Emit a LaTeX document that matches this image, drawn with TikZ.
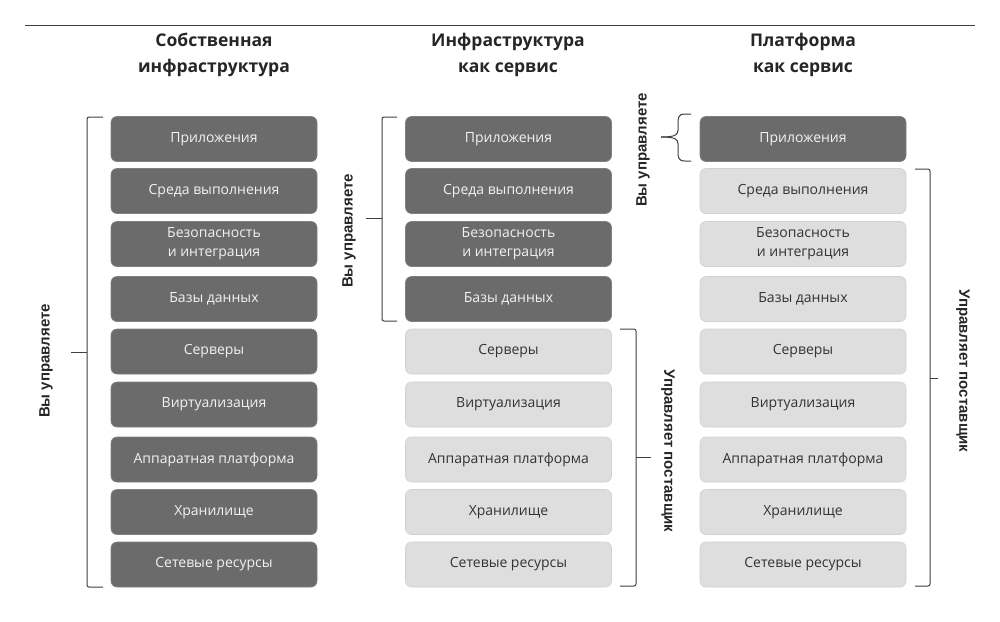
\documentclass[tikz,border=0pt]{standalone}
\usepackage{fontspec}
\setmainfont{Open Sans}
\newfontfamily\lblfont{Liberation Sans}
\begin{document}
\begin{tikzpicture}[x=1pt,y=-1pt,
  darkbox/.style={draw=black!50,line width=0.6pt,fill=black!58,rounded corners=6pt,minimum width=206pt,minimum height=45pt,
     text=white!95!black,font=\fontsize{14}{19}\selectfont,align=center,inner sep=0pt},
  lightbox/.style={draw=black!18,line width=0.6pt,fill=black!13,rounded corners=6pt,minimum width=206pt,minimum height=45pt,
     text=black!80,font=\fontsize{14}{19}\selectfont,align=center,inner sep=0pt},
  ttl/.style={font=\bfseries\fontsize{17.5}{26}\selectfont,align=center,text=black!85},
  brk/.style={draw=black!75,line width=1pt,rounded corners=2pt},
  side/.style={font=\lblfont\bfseries\fontsize{15}{18}\selectfont,text=black!85,inner sep=0pt}]
\useasboundingbox (0,0) rectangle (1000,621);
\fill[white] (0,0) rectangle (1000,621);
\coordinate (rl) at (25,25);
\coordinate (rr) at (975,25);
\draw[black!75,line width=1pt] (rl) -- (rr);
% titles
\node[ttl] (t1) at (214,55) {Собственная\\инфраструктура};
\node[ttl] (t2) at (508,55) {Инфраструктура\\как сервис};
\node[ttl] (t3) at (803,55) {Платформа\\как сервис};
% column 1
\node[darkbox] (a1) at (214,139) {Приложения};
\node[darkbox] (a2) at (214,191) {Среда выполнения};
\node[darkbox] (a3) at (214,244) {Безопасность\\и интеграция};
\node[darkbox] (a4) at (214,299) {Базы данных};
\node[darkbox] (a5) at (214,351.5) {Серверы};
\node[darkbox] (a6) at (214,404.5) {Виртуализация};
\node[darkbox] (a7) at (214,459.5) {Аппаратная платформа};
\node[darkbox] (a8) at (214,512) {Хранилище};
\node[darkbox] (a9) at (214,564.5) {Сетевые ресурсы};
% column 2
\node[darkbox] (b1) at (508.5,139) {Приложения};
\node[darkbox] (b2) at (508.5,191) {Среда выполнения};
\node[darkbox] (b3) at (508.5,244) {Безопасность\\и интеграция};
\node[darkbox] (b4) at (508.5,299) {Базы данных};
\node[lightbox] (b5) at (508.5,351.5) {Серверы};
\node[lightbox] (b6) at (508.5,404.5) {Виртуализация};
\node[lightbox] (b7) at (508.5,459.5) {Аппаратная платформа};
\node[lightbox] (b8) at (508.5,512) {Хранилище};
\node[lightbox] (b9) at (508.5,564.5) {Сетевые ресурсы};
% column 3
\node[darkbox] (c1) at (803,139) {Приложения};
\node[lightbox] (c2) at (803,191) {Среда выполнения};
\node[lightbox] (c3) at (803,244) {Безопасность\\и интеграция};
\node[lightbox] (c4) at (803,299) {Базы данных};
\node[lightbox] (c5) at (803,351.5) {Серверы};
\node[lightbox] (c6) at (803,404.5) {Виртуализация};
\node[lightbox] (c7) at (803,459.5) {Аппаратная платформа};
\node[lightbox] (c8) at (803,512) {Хранилище};
\node[lightbox] (c9) at (803,564.5) {Сетевые ресурсы};
% brackets
\draw[brk] (103,117) -- (87,117) -- (87,587) -- (103,587);
\draw[brk] (87,352) -- (71,352);
\node[side,rotate=90] (s1) at (46,361) {Вы управляете};

\draw[brk] (397,117) -- (382,117) -- (382,321) -- (397,321);
\draw[brk] (382,218) -- (366,218);
\node[side,rotate=90] (s2) at (349,231) {Вы управляете};

\draw[brk] (620,329) -- (636,329) -- (636,586) -- (620,586);
\draw[brk] (636,457) -- (651,457);
\node[side,rotate=-90] (s3) at (668,451) {Управляет поставщик};

\draw[black!75,line width=1pt] (691,114) -- (685,114) .. controls (678,114) and (678,118) .. (678,124) -- (678,130) .. controls (678,135) and (675,137) .. (661,137);
\draw[black!75,line width=1pt] (691,161) -- (685,161) .. controls (678,161) and (678,157) .. (678,151) -- (678,144) .. controls (678,139) and (675,137) .. (661,137);
\node[side,rotate=90] (s4) at (643,150) {Вы управляете};

\draw[brk] (915,169) -- (930,169) -- (930,586) -- (915,586);
\draw[brk] (930,378) -- (938,378);
\node[side,rotate=-90] (s5) at (963,371) {Управляет поставщик};
\end{tikzpicture}
\end{document}
